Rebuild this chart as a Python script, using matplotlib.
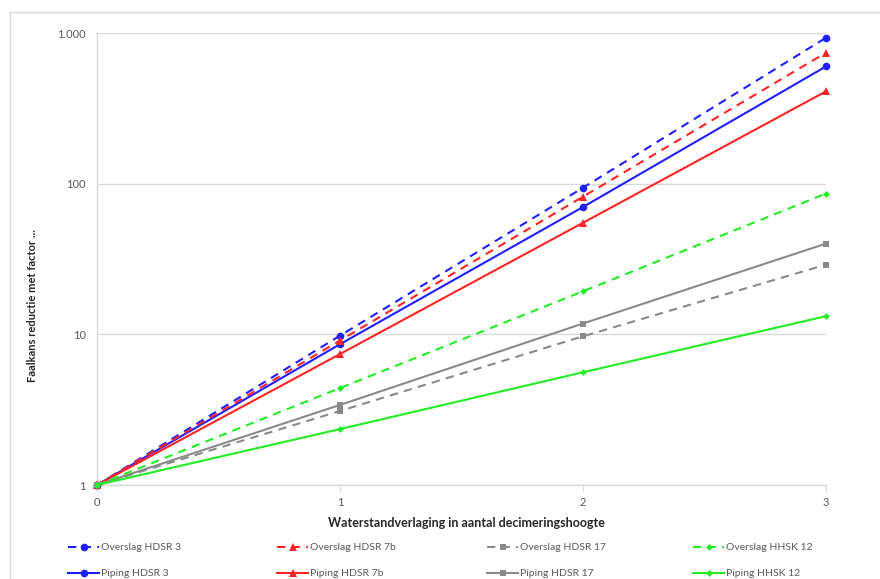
import matplotlib

matplotlib.use("Agg")

import matplotlib.pyplot as plt
from matplotlib.patches import Rectangle

plt.rcParams["font.family"] = ["Lato", "DejaVu Sans"]

# decimeringshoogte stappen
x_stappen = [0, 1, 2, 3]

overslag_hdsr3 = [1, 9.8, 94, 930]
piping_hdsr3 = [1, 8.6, 70, 600]
overslag_hdsr7b = [1, 9.1, 82, 740]
piping_hdsr7b = [1, 7.4, 55, 410]
overslag_hdsr17 = [1, 3.1, 9.7, 29]
piping_hdsr17 = [1, 3.4, 11.8, 40]
overslag_hhsk12 = [1, 4.4, 19.3, 86]
piping_hhsk12 = [1, 2.35, 5.6, 13.2]

y_ticks = [1, 10, 100, 1000]
y_ticklabels = ["1", "10", "100", "1.000"]

BLAUW = "#1f1fff"
ROOD = "#ff2424"
GRIJS = "#8a8a8a"
GROEN = "#22ee22"
TEKST = "#595959"

reeksen = [
    ("Overslag HDSR 3", overslag_hdsr3, BLAUW, "o", 5.5, (0, (4, 3))),
    ("Piping HDSR 3", piping_hdsr3, BLAUW, "o", 5.5, "-"),
    ("Overslag HDSR 7b", overslag_hdsr7b, ROOD, "^", 5.5, (0, (4, 3))),
    ("Piping HDSR 7b", piping_hdsr7b, ROOD, "^", 5.5, "-"),
    ("Overslag HDSR 17", overslag_hdsr17, GRIJS, "s", 5, (0, (4, 3))),
    ("Piping HDSR 17", piping_hdsr17, GRIJS, "s", 5, "-"),
    ("Overslag HHSK 12", overslag_hhsk12, GROEN, "D", 3.5, (0, (4, 3))),
    ("Piping HHSK 12", piping_hhsk12, GROEN, "D", 3.5, "-"),
]

W, H = 880, 579
fig = plt.figure(figsize=(W / 100, H / 100), dpi=100)
ax = fig.add_axes([97 / W, 1 - 485 / H, (826 - 97) / W, (485 - 33) / H])

# kaderrand van het grafiekgebied
fig.add_artist(
    Rectangle((10 / W, -0.05), 1.2, 1 - 12 / H + 0.05, transform=fig.transFigure,
              fill=False, edgecolor="#d9d9d9", linewidth=1.0, clip_on=False)
)

lijnen = {}
for naam, waarden, kleur, marker, ms, stijl in reeksen:
    (lijn,) = ax.plot(x_stappen, waarden, color=kleur, linestyle=stijl, linewidth=1.5,
                      marker=marker, markersize=ms, markeredgewidth=0,
                      label=naam, clip_on=False, zorder=3)
    lijnen[naam] = lijn

ax.set_yscale("log")
ax.set_ylim(1, 1000)
ax.set_xlim(0, 3)
ax.set_yticks(y_ticks)
ax.set_yticklabels(y_ticklabels)
ax.yaxis.set_minor_locator(plt.NullLocator())
ax.set_xticks(x_stappen)
ax.set_xticklabels([str(v) for v in x_stappen])

ax.grid(axis="y", color="#d9d9d9", linewidth=1.0)
ax.set_axisbelow(True)
for kant in ["top", "right"]:
    ax.spines[kant].set_visible(False)
for kant in ["left", "bottom"]:
    ax.spines[kant].set_color("#d9d9d9")
    ax.spines[kant].set_linewidth(1.0)

ax.tick_params(axis="y", length=0, pad=8, labelsize=8, labelcolor=TEKST)
ax.tick_params(axis="x", length=4, color="#d9d9d9", pad=5, labelsize=8, labelcolor=TEKST)

fig.text(466 / W, 1 - 523 / H, "Waterstandverlaging in aantal decimeringshoogte",
         ha="center", va="center", fontsize=9, fontweight="bold", color="#262626")
fig.text(33 / W, 1 - 306 / H, "Faalkans reductie met factor ...",
         ha="center", va="center", rotation=90, fontsize=8, fontweight="bold",
         color="#262626")

# legenda in vier kolommen van twee regels
kolom_x = [68, 277, 487, 693]
for i, x0 in enumerate(kolom_x):
    namen = [reeksen[2 * i][0], reeksen[2 * i + 1][0]]
    leg = fig.legend([lijnen[n] for n in namen], namen, loc="upper left",
                     bbox_to_anchor=(x0 / W, 1 - 543 / H), frameon=False,
                     borderpad=0, borderaxespad=0, handlelength=3.0,
                     handletextpad=0.2, labelspacing=1.6, fontsize=7.5)
    for t in leg.get_texts():
        t.set_color(TEKST)

fig.savefig("out.png", dpi=100)
